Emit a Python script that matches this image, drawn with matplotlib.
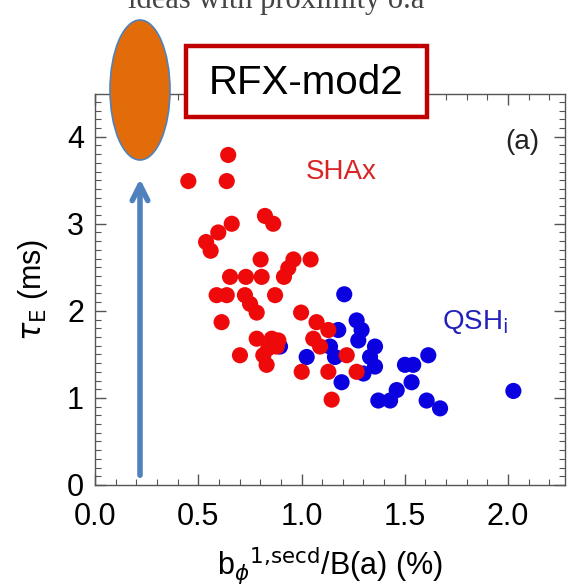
import numpy as np
import matplotlib
matplotlib.use("Agg")
import matplotlib.pyplot as plt
from matplotlib.patches import Ellipse, Rectangle, FancyArrowPatch
from matplotlib.ticker import MultipleLocator

# SHAx states (red)
shax_x = [0.645, 0.452, 0.638, 0.823, 0.863, 0.662, 0.597, 0.538, 0.560, 0.802,
          0.961, 1.044, 0.936, 0.915, 0.654, 0.731, 0.807, 0.589, 0.638, 0.726,
          0.751, 0.783, 0.872, 0.613, 0.998, 1.073, 1.130, 0.783, 0.856, 0.888,
          0.702, 0.815, 0.831, 1.001, 1.130, 1.267, 1.057, 1.090, 1.219, 0.839,
          0.880, 1.146]
shax_y = [3.79, 3.49, 3.49, 3.09, 3.00, 3.00, 2.90, 2.79, 2.69, 2.59,
          2.59, 2.59, 2.49, 2.39, 2.39, 2.39, 2.39, 2.18, 2.18, 2.18,
          2.08, 1.98, 2.18, 1.87, 1.98, 1.87, 1.78, 1.68, 1.68, 1.66,
          1.49, 1.49, 1.38, 1.30, 1.30, 1.30, 1.68, 1.59, 1.49, 1.57,
          1.59, 0.98]

# QSH states (blue)
qsh_x = [1.207, 1.267, 1.291, 1.275, 1.178, 1.138, 1.162, 1.025, 1.356, 1.332,
         1.356, 1.300, 1.194, 1.501, 1.541, 1.533, 1.461, 1.429, 1.372, 1.614,
         1.606, 1.671, 2.026, 0.896]
qsh_y = [2.19, 1.89, 1.78, 1.66, 1.78, 1.59, 1.47, 1.47, 1.59, 1.47,
         1.36, 1.28, 1.18, 1.38, 1.38, 1.18, 1.09, 0.97, 0.97, 1.49,
         0.97, 0.88, 1.08, 1.59]

W, H = 569, 585
fig = plt.figure(figsize=(W / 100, H / 100), dpi=100)
plt.rcParams['font.family'] = ['Liberation Sans', 'DejaVu Sans']

ax = fig.add_axes([95 / W, 1 - 485 / H, 470 / W, 391 / H])
ax.scatter(qsh_x, qsh_y, s=135, color='#0a00e0', edgecolors='none', zorder=3)
ax.scatter(shax_x, shax_y, s=135, color='#ee0a0a', edgecolors='none', zorder=4)

ax.set_xlim(0, 2.276)
ax.set_ylim(0, 4.49)
ax.xaxis.set_major_locator(MultipleLocator(0.5))
ax.xaxis.set_minor_locator(MultipleLocator(0.1))
ax.yaxis.set_major_locator(MultipleLocator(1))
ax.yaxis.set_minor_locator(MultipleLocator(0.1))
ax.xaxis.set_major_formatter(matplotlib.ticker.FormatStrFormatter('%.1f'))
ax.tick_params(which='both', direction='in', top=True, right=True,
               color='#555555', labelsize=22)
ax.tick_params(axis='x', pad=12)
ax.tick_params(axis='y', pad=8)
ax.tick_params(which='major', length=8, width=1)
ax.tick_params(which='minor', length=4, width=0.8)
for sp in ax.spines.values():
    sp.set_color('#555555')
    sp.set_linewidth(1)

ax.set_xlabel(r'b$_\phi$$^{\rm 1,\!secd}$/B(a) (%)', fontsize=22, labelpad=10)
ax.set_ylabel(r'$\tau_{\rm E}$ (ms)', fontsize=22, labelpad=12)

ax.text(1.19, 3.6, 'SHAx', color='#d82424', fontsize=20, ha='center', va='center')
ax.text(1.84, 1.87, r'QSH$_{\rm i}$', color='#2222bb', fontsize=20, ha='center', va='center')
ax.text(2.07, 3.94, '(a)', color='#222222', fontsize=20, ha='center', va='center')

# overlay annotations
ell = Ellipse((140 / W, 1 - 90 / H), 60 / W, 140 / H, transform=fig.transFigure,
              facecolor='#e36c0a', edgecolor='#4f81bd', lw=1.2, zorder=10)
fig.patches.append(ell)

box = Rectangle((186 / W, 1 - 117 / H), 241 / W, 71 / H, transform=fig.transFigure,
                facecolor='white', edgecolor='#c00000', lw=3.2, zorder=10)
fig.patches.append(box)
fig.text(306 / W, 1 - 83 / H, 'RFX-mod2', fontsize=29, ha='center', va='center', zorder=11)

arr = FancyArrowPatch((140 / W, 1 - 478 / H), (140 / W, 1 - 176 / H),
                      transform=fig.transFigure, arrowstyle='->', mutation_scale=28,
                      lw=4, color='#4f81bd', zorder=10)
fig.patches.append(arr)

fig.text(128 / W, 1 - 8 / H, 'ideas with proximity o.a', fontsize=22,
         family=['Liberation Serif', 'DejaVu Serif'], color='#444444', va='baseline')

fig.savefig('out.png', dpi=100)
